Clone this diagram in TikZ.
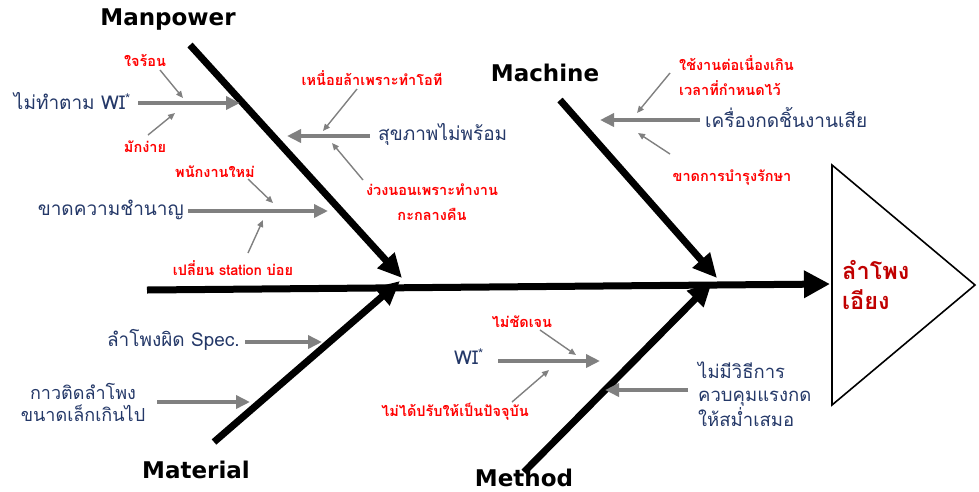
\documentclass[tikz,border=0pt]{standalone}
\usepackage{fontspec}
\setmainfont[Script=Thai]{Loma}
\newfontfamily\catfont{DejaVu Sans}
\usetikzlibrary{arrows.meta}
\definecolor{causeblue}{RGB}{36,56,104}
\definecolor{arrowgray}{RGB}{128,128,128}
\definecolor{effectred}{RGB}{192,0,0}
\begin{document}
\begin{tikzpicture}[x=1pt,y=-1pt,
  bone/.style={line width=7pt,-{Triangle[length=24pt,width=22pt]}},
  spine/.style={line width=7pt,-{Triangle[length=26pt,width=26pt]}},
  cause/.style={text=causeblue,inner sep=0pt,font=\fontsize{19}{24}\selectfont},
  sublabel/.style={text=red,inner sep=0pt,font=\bfseries\fontsize{14.5}{25}\selectfont},
  catlabel/.style={inner sep=0pt,font=\catfont\bfseries\fontsize{23}{26}\selectfont},
  garrow/.style={draw=arrowgray,line width=4pt,-{Triangle[length=14pt,width=13pt]}},
  tarrow/.style={draw=arrowgray,line width=1.4pt,-{Triangle[length=7pt,width=6pt]}}]
\useasboundingbox (0,0) rectangle (979,491);

% head of the fish
\coordinate (hTop) at (832,165);
\coordinate (hTip) at (975,285);
\coordinate (hBot) at (832,405);
\draw[line width=1.6pt,line join=miter] (hTop) -- (hTip) -- (hBot) -- cycle;
\node[text=effectred,inner sep=0pt,align=left,anchor=west,
      font=\bfseries\fontsize{23.5}{30}\selectfont] (effect) at (842,285) {ลำโพง\\เอียง};

% spine
\coordinate (spTail) at (147,290);
\coordinate (spHead) at (830,284);
\draw[spine] (spTail) -- (spHead);

% main bones
\node[catlabel] (manpower) at (168,20) {Manpower};
\node[catlabel] (machine) at (545,73) {Machine};
\node[catlabel] (material) at (196,470) {Material};
\node[catlabel] (method) at (524,478) {Method};
\coordinate (mpA) at (190,45);  \coordinate (mpB) at (402,278);
\coordinate (mcA) at (560,100); \coordinate (mcB) at (717,278);
\coordinate (mtA) at (214,442); \coordinate (mtB) at (400,281);
\coordinate (meA) at (524,472); \coordinate (meB) at (712,282);
\draw[bone] (mpA) -- (mpB);
\draw[bone] (mcA) -- (mcB);
\draw[bone] (mtA) -- (mtB);
\draw[bone] (meA) -- (meB);

% Manpower causes
\node[cause,anchor=east] (c1) at (131,101) {ไม่ทำตาม WI\textsuperscript{*}};
\coordinate (c1a) at (138,103); \coordinate (c1b) at (240,103);
\draw[garrow] (c1a) -- (c1b);
\node[sublabel] (s1) at (145,60) {ใจร้อน};
\coordinate (s1a) at (160,70); \coordinate (s1b) at (183,98);
\draw[tarrow] (s1a) -- (s1b);
\node[sublabel] (s2) at (145,147) {มักง่าย};
\coordinate (s2a) at (148,135); \coordinate (s2b) at (175,113);
\draw[tarrow] (s2a) -- (s2b);

\node[cause,anchor=west] (c2) at (378,134) {สุขภาพไม่พร้อม};
\coordinate (c2a) at (370,136); \coordinate (c2b) at (287,136);
\draw[garrow] (c2a) -- (c2b);
\node[sublabel] (s3) at (372,78) {เหนื่อยล้าเพราะทำโอที};
\coordinate (s3a) at (357,89); \coordinate (s3b) at (323,131);
\draw[tarrow] (s3a) -- (s3b);
\node[sublabel,align=center] (s4) at (432,202) {ง่วงนอนเพราะทำงาน\\กะกลางคืน};
\coordinate (s4a) at (363,180); \coordinate (s4b) at (332,143);
\draw[tarrow] (s4a) -- (s4b);

\node[cause,anchor=east] (c3) at (184,210) {ขาดความชำนาญ};
\coordinate (c3a) at (188,211); \coordinate (c3b) at (328,211);
\draw[garrow] (c3a) -- (c3b);
\node[sublabel] (s5) at (215,172) {พนักงานใหม่};
\coordinate (s5a) at (248,179); \coordinate (s5b) at (273,203);
\draw[tarrow] (s5a) -- (s5b);
\node[sublabel] (s6) at (233,268) {เปลี่ยน station บ่อย};
\coordinate (s6a) at (248,253); \coordinate (s6b) at (263,220);
\draw[tarrow] (s6a) -- (s6b);

% Machine causes
\node[cause,anchor=west] (c4) at (705,117) {เครื่องกดชิ้นงานเสีย};
\coordinate (c4a) at (700,120); \coordinate (c4b) at (600,120);
\draw[garrow] (c4a) -- (c4b);
\node[sublabel,align=left,anchor=west] (s7) at (679,76) {ใช้งานต่อเนื่องเกิน\\เวลาที่กำหนดไว้};
\coordinate (s7a) at (670,73); \coordinate (s7b) at (637,113);
\draw[tarrow] (s7a) -- (s7b);
\node[sublabel] (s8) at (732,177) {ขาดการบำรุงรักษา};
\coordinate (s8a) at (670,154); \coordinate (s8b) at (638,133);
\draw[tarrow] (s8a) -- (s8b);

% Material causes
\node[cause,anchor=east] (c5) at (240,340) {ลำโพงผิด Spec.};
\coordinate (c5a) at (245,342); \coordinate (c5b) at (322,342);
\draw[garrow] (c5a) -- (c5b);
\node[cause,align=center,font=\fontsize{18}{22}\selectfont] (c6) at (83,402) {กาวติดลำโพง\\ขนาดเล็กเกินไป};
\coordinate (c6a) at (157,402); \coordinate (c6b) at (250,402);
\draw[garrow] (c6a) -- (c6b);

% Method causes
\node[cause,anchor=east] (c7) at (484,357) {WI\textsuperscript{*}};
\coordinate (c7a) at (498,361); \coordinate (c7b) at (600,361);
\draw[garrow] (c7a) -- (c7b);
\node[sublabel] (s9) at (522,322) {ไม่ชัดเจน};
\coordinate (s9a) at (540,330); \coordinate (s9b) at (576,355);
\draw[tarrow] (s9a) -- (s9b);
\node[sublabel] (s10) at (455,412) {ไม่ได้ปรับให้เป็นปัจจุบัน};
\coordinate (s10a) at (512,402); \coordinate (s10b) at (549,370);
\draw[tarrow] (s10a) -- (s10b);
\node[cause,align=left,anchor=west,font=\fontsize{18.5}{23.5}\selectfont] (c8) at (698,394) {ไม่มีวิธีการ\\ควบคุมแรงกด\\ให้สม่ำเสมอ};
\coordinate (c8a) at (688,390); \coordinate (c8b) at (605,390);
\draw[garrow] (c8a) -- (c8b);
\end{tikzpicture}
\end{document}
